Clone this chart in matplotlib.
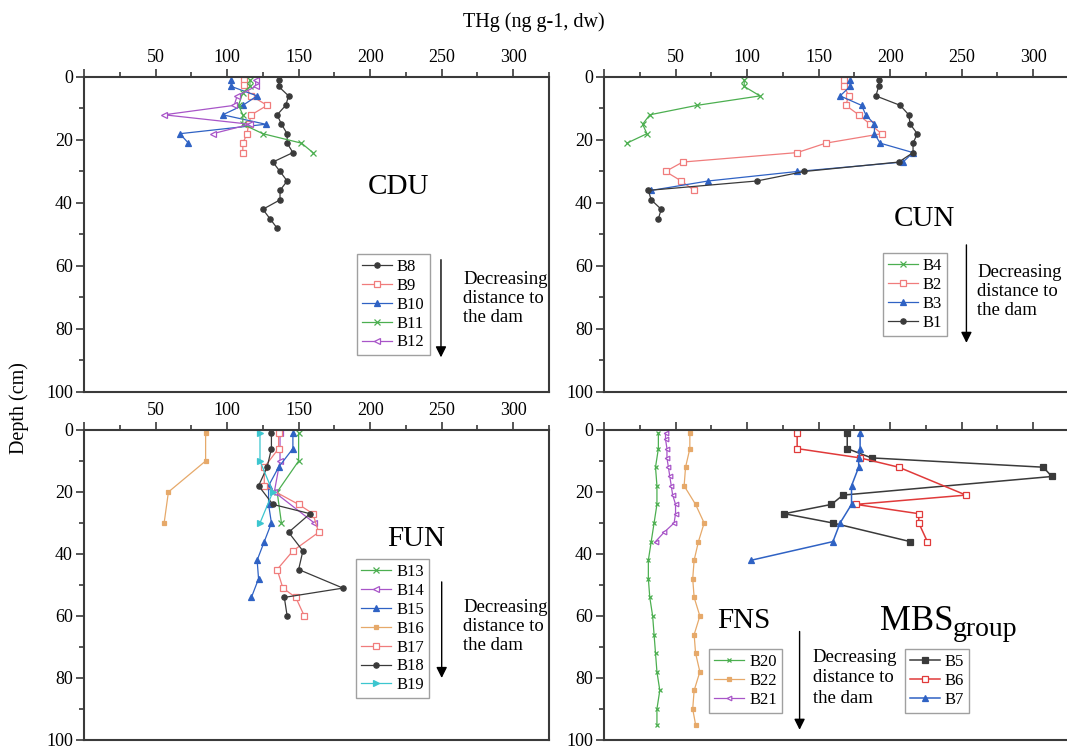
import numpy as np
import matplotlib.pyplot as plt
from matplotlib.ticker import MultipleLocator, FixedLocator

plt.rcParams['font.family'] = ['Liberation Serif', 'DejaVu Serif']

# ---- CDU ----
b8_d = [1, 3, 6, 9, 12, 15, 18, 21, 24, 27, 30, 33, 36, 39, 42, 45, 48]
b8_v = [136, 136, 143, 141, 135, 138, 142, 142, 146, 132, 137, 142, 137, 137, 125, 130, 135]
b9_d = [1, 2.5, 6, 9, 12, 15, 18, 21, 24]
b9_v = [112, 112, 117, 128, 117, 115, 114, 111, 111]
b10_d = [1, 3, 6, 9, 12, 15, 18, 21]
b10_v = [103, 103, 121, 111, 97, 127, 67, 73]
b11_d = [1, 3, 5, 9, 12, 15, 18, 21, 24]
b11_v = [116, 116, 111, 108, 111, 111, 125, 152, 160]
b12_d = [1, 3, 6, 9, 12, 15, 18]
b12_v = [120, 120, 107, 105, 56, 116, 90]

# ---- CUN ----
b4_d = [1, 3, 6, 9, 12, 15, 18, 21]
b4_v = [98, 98, 109, 65, 32, 27, 30, 16]
b2_d = [1, 3, 6, 9, 12, 15, 18, 21, 24, 27, 30, 33, 36]
b2_v = [168, 168, 171, 169, 178, 186, 194, 155, 135, 55, 43, 54, 63]
b3_d = [1, 3, 6, 9, 12, 15, 18, 21, 24, 27, 30, 33, 36]
b3_v = [172, 172, 165, 180, 183, 189, 189, 193, 216, 209, 135, 73, 33]
b1_d = [1, 3, 6, 9, 12, 15, 18, 21, 24, 27, 30, 33, 36, 39, 42, 45]
b1_v = [192, 192, 190, 207, 213, 214, 219, 216, 216, 206, 140, 107, 31, 33, 40, 38]

# ---- FUN ----
b13_d = [1, 10, 20, 30]
b13_v = [150, 150, 135, 138]
b14_d = [1, 10, 20, 30]
b14_v = [137, 137, 133, 161]
b15_d = [1, 6, 12, 18, 24, 30, 36, 42, 48, 54]
b15_v = [146, 146, 136, 129, 129, 131, 126, 121, 122, 117]
b16_d = [1, 10, 20, 30]
b16_v = [85, 85, 59, 56]
b17_d = [1, 6, 12, 18, 24, 27, 33, 39, 45, 51, 54, 60]
b17_v = [136, 136, 126, 126, 150, 160, 164, 146, 135, 139, 148, 154]
b18_d = [1, 6, 12, 18, 24, 27, 33, 39, 45, 51, 54, 60]
b18_v = [131, 131, 128, 122, 132, 158, 143, 153, 150, 181, 140, 142]
b19_d = [1, 10, 20, 30]
b19_v = [123, 123, 132, 123]

# ---- FNS ----
b20_d = [1, 6, 12, 18, 24, 30, 36, 42, 48, 54, 60, 66, 72, 78, 84, 90, 95]
b20_v = [38, 38, 36, 37, 37, 35, 33, 31, 31, 32, 34, 35, 36, 37, 39, 37, 37]
b22_d = [1, 6, 12, 18, 24, 30, 36, 42, 48, 54, 60, 66, 72, 78, 84, 90, 95]
b22_v = [60, 60, 57, 56, 64, 70, 66, 63, 62, 63, 67, 63, 64, 67, 63, 62, 64]
b21_d = [1, 3, 6, 9, 12, 15, 18, 21, 24, 27, 30, 33, 36]
b21_v = [43, 43, 44, 44, 45, 46, 47, 48, 50, 50, 49, 42, 36]

# ---- MBS ----
b5_d = [1, 6, 9, 12, 15, 21, 24, 27, 30, 36]
b5_v = [170, 170, 187, 307, 313, 167, 159, 126, 160, 214]
b6_d = [1, 6, 9, 12, 21, 24, 27, 30, 36]
b6_v = [135, 135, 179, 206, 253, 176, 220, 220, 226]
b7_d = [1, 6, 9, 12, 18, 24, 30, 36, 42]
b7_v = [179, 179, 178, 178, 173, 173, 165, 160, 103]

GREY = '#3a3a3a'
PINK = '#f07c7c'
BLUE = '#2f62c4'
GREEN = '#4caf50'
PURPLE = '#a855c8'
ORANGE = '#e6a96a'
CYAN = '#3cc6cf'
RED = '#e03a3a'

fig = plt.figure(figsize=(10.67, 7.49), dpi=100)
W, H = 1067, 749


def make_ax(x0, y0, x1, y1, top_labels=True):
    ax = fig.add_axes([x0 / W, 1 - y1 / H, (x1 - x0) / W, (y1 - y0) / H])
    ax.set_xlim(0, 325)
    ax.set_ylim(100, 0)
    ax.xaxis.tick_top()
    ax.xaxis.set_major_locator(FixedLocator([0, 50, 100, 150, 200, 250, 300]))
    ax.xaxis.set_minor_locator(MultipleLocator(25))
    if top_labels:
        ax.set_xticklabels(['', '50', '100', '150', '200', '250', '300'])
    else:
        ax.set_xticklabels([])
    ax.yaxis.set_major_locator(MultipleLocator(20))
    ax.yaxis.set_minor_locator(MultipleLocator(10))
    ax.tick_params(which='both', direction='out', color=GREY, width=1.2,
                   labelsize=13, top=True, bottom=False, right=False, pad=2)
    ax.tick_params(which='major', length=6)
    ax.tick_params(which='minor', length=3.5)
    for s in ax.spines.values():
        s.set_color(GREY)
        s.set_linewidth(1.5)
    return ax


def series(ax, v, d, label, color, marker, filled=True, ms=3.8, lw=0.9):
    return ax.plot(v, d, color=color, marker=marker, ms=ms, lw=lw, label=label,
                   mfc=color if filled else 'white', mec=color, mew=0.9)[0]


def legend(ax, x, y, handles=None):
    kw = dict(loc='upper left', bbox_to_anchor=(x, y), fontsize=12,
              frameon=True, fancybox=False, edgecolor='#888888',
              handlelength=1.8, handletextpad=0.3, borderpad=0.3,
              labelspacing=0.17, borderaxespad=0)
    if handles is not None:
        leg = ax.legend(handles=handles, **kw)
    else:
        leg = ax.legend(**kw)
    leg.get_frame().set_linewidth(1.0)
    return leg


def arrow_text(ax, xa, ya0, ya1, xt, yt, ls=1.15):
    ax.annotate('', xy=(xa, ya1), xytext=(xa, ya0),
                arrowprops=dict(arrowstyle='-|>', color='black', lw=1.0,
                                mutation_scale=16, shrinkA=0, shrinkB=0))
    ax.text(xt, yt, 'Decreasing\ndistance to\nthe dam', fontsize=13.5,
            va='top', ha='left', linespacing=ls)


# top-left CDU
ax1 = make_ax(84, 77, 549, 392)
series(ax1, b8_v, b8_d, 'B8', GREY, 'o')
series(ax1, b9_v, b9_d, 'B9', PINK, 's', filled=False)
series(ax1, b10_v, b10_d, 'B10', BLUE, '^')
series(ax1, b11_v, b11_d, 'B11', GREEN, 'x')
series(ax1, b12_v, b12_d, 'B12', PURPLE, '<', filled=False)
ax1.text(220, 35, 'CDU', fontsize=21, ha='center', va='center')
legend(ax1, 0.587, 0.438)
arrow_text(ax1, 249.5, 58, 89, 265, 61.5)

# top-right CUN
ax2 = make_ax(604, 77, 1069, 392)
series(ax2, b4_v, b4_d, 'B4', GREEN, 'x')
series(ax2, b2_v, b2_d, 'B2', PINK, 's', filled=False)
series(ax2, b3_v, b3_d, 'B3', BLUE, '^')
series(ax2, b1_v, b1_d, 'B1', GREY, 'o')
ax2.text(224, 45, 'CUN', fontsize=21, ha='center', va='center')
legend(ax2, 0.599, 0.441)
arrow_text(ax2, 253.3, 53.3, 84.4, 261, 59.5)

# bottom-left FUN
ax3 = make_ax(84, 430, 549, 740)
series(ax3, b13_v, b13_d, 'B13', GREEN, 'x')
series(ax3, b14_v, b14_d, 'B14', PURPLE, '<', filled=False)
series(ax3, b15_v, b15_d, 'B15', BLUE, '^')
series(ax3, b16_v, b16_d, 'B16', ORANGE, 's', ms=3.3)
series(ax3, b17_v, b17_d, 'B17', PINK, 's', filled=False)
series(ax3, b18_v, b18_d, 'B18', GREY, 'o')
series(ax3, b19_v, b19_d, 'B19', CYAN, '>')
ax3.text(232, 35, 'FUN', fontsize=21, ha='center', va='center')
legend(ax3, 0.586, 0.583)
arrow_text(ax3, 250, 49, 80, 265, 54.5)

# bottom-right FNS + MBS
ax4 = make_ax(604, 430, 1069, 740, top_labels=False)
f20 = series(ax4, b20_v, b20_d, 'B20', GREEN, 'x', ms=3.3)
f22 = series(ax4, b22_v, b22_d, 'B22', ORANGE, 's', ms=3.3)
f21 = series(ax4, b21_v, b21_d, 'B21', PURPLE, '<', filled=False, ms=3.3)
l1 = legend(ax4, 0.226, 0.293, handles=[f20, f22, f21])
ax4.add_artist(l1)
m5 = series(ax4, b5_v, b5_d, 'B5', GREY, 's', lw=1.1)
m6 = series(ax4, b6_v, b6_d, 'B6', RED, 's', filled=False, lw=1.1)
m7 = series(ax4, b7_v, b7_d, 'B7', BLUE, '^', lw=1.1)
legend(ax4, 0.647, 0.293, handles=[m5, m6, m7])
ax4.text(97.5, 61.5, 'FNS', fontsize=21, ha='center', va='center')
ax4.text(193, 64.5, 'MBS', fontsize=25, ha='left', va='baseline')
ax4.text(243.5, 66.5, 'group', fontsize=20, ha='left', va='baseline')
arrow_text(ax4, 136.7, 65, 96.7, 146, 70.5, ls=1.3)

fig.text(0.5, 0.97, 'THg (ng g-1, dw)', fontsize=14.5, ha='center', va='center')
fig.text(0.018, 0.455, 'Depth (cm)', fontsize=14.5, ha='center', va='center',
         rotation=90)

fig.savefig('out.png', dpi=100)
